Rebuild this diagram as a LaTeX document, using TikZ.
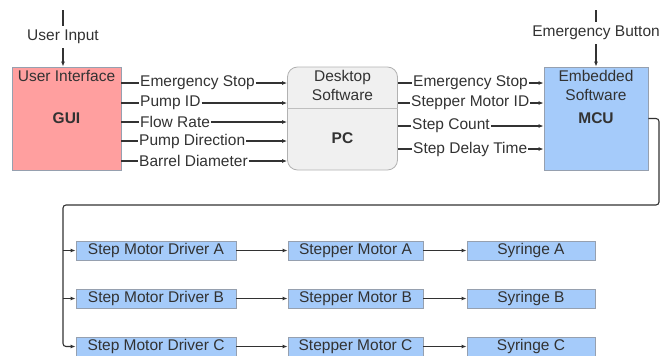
\documentclass[tikz,border=0pt]{standalone}
\usepackage{fontspec}
\setmainfont{Liberation Sans}
\usepackage{tikz}
\usetikzlibrary{arrows.meta}

\definecolor{guipink}{RGB}{255,159,159}
\definecolor{swblue}{RGB}{165,203,250}
\definecolor{pcgray}{RGB}{240,240,240}
\definecolor{edgegray}{RGB}{150,160,175}
\definecolor{inkgray}{RGB}{50,50,50}

\begin{document}
\begin{tikzpicture}
[x=1pt,y=-1pt,
txt/.style={font=\fontsize{15.5}{19}\selectfont,text=inkgray,inner sep=1pt},
block/.style={draw=edgegray,line width=0.8pt,txt,align=center},
bigbox/.style={block,minimum width=109pt,minimum height=103pt},
rowbox/.style={block,fill=swblue,minimum height=19pt},
wire/.style={draw=inkgray,line width=1.1pt},
arr/.style={wire,-{Latex[length=5pt,width=4pt]}}]
\useasboundingbox (0,0) rectangle (672,356);
% top row
\node[bigbox,fill=guipink,label={[txt,anchor=north,inner sep=3.5pt]north:User Interface}] (gui) at (66.5,118.5) {\textbf{GUI}};
\node[bigbox,fill=pcgray,draw=gray!60,rounded corners=10pt,minimum width=110pt,
  label={[txt,anchor=north,align=center,inner sep=3pt]north:Desktop\\Software},
  label={[txt,yshift=-19.5pt]center:\textbf{PC}}] (pc) at (342.5,118.5) {};
\node[bigbox,fill=swblue,minimum width=104pt,
  label={[txt,anchor=north,align=center,inner sep=3.5pt]north:Embedded\\Software}] (mcu) at (596,118.5) {\textbf{MCU}};
\draw[draw=gray!50,line width=0.8pt] (pc.west |- 0,108) -- (pc.east |- 0,108);
% outside inputs
\node[txt,inner sep=4pt] (uin) at (63,37) {User Input};
\node[txt,inner sep=4pt] (ebtn) at (596,33) {Emergency Button};
\coordinate (uintop) at (63,10);
\coordinate (ebtntop) at (596,10);
\draw[wire] (uintop) -- (uin);
\draw[arr] (uin) -- (gui.north -| uin);
\draw[wire] (ebtntop) -- (ebtn);
\draw[arr] (ebtn) -- (mcu.north);
% GUI -> PC
\node[txt,anchor=west] (es1) at (139,83) {Emergency Stop};
\node[txt,anchor=west] (pid) at (139,103) {Pump ID};
\node[txt,anchor=west] (fr) at (139,122) {Flow Rate};
\node[txt,anchor=west] (pdir) at (138,141) {Pump Direction};
\node[txt,anchor=west] (bd) at (138,161) {Barrel Diameter};
\foreach \s in {es1,pid,fr,pdir,bd}{
  \draw[wire] (gui.east |- \s) -- (\s.west);
  \draw[arr] (\s.east) -- (pc.west |- \s);
}
% PC -> MCU
\node[txt,anchor=west] (es2) at (412,83) {Emergency Stop};
\node[txt,anchor=west] (smid) at (410,103) {Stepper Motor ID};
\node[txt,anchor=west] (sc) at (411,126) {Step Count};
\node[txt,anchor=west] (sdt) at (412,149) {Step Delay Time};
\foreach \s in {es2,smid,sc,sdt}{
  \draw[wire] (pc.east |- \s) -- (\s.west);
  \draw[arr] (\s.east) -- (mcu.west |- \s);
}
% motor rows
\foreach \r/\y in {A/250.5,B/298.5,C/346.5}{
  \node[rowbox,minimum width=160pt] (drv\r) at (156,\y) {Step Motor Driver \r};
  \node[rowbox,minimum width=135pt] (mot\r) at (355.5,\y) {Stepper Motor \r};
  \node[rowbox,minimum width=128pt] (syr\r) at (531,\y) {Syringe \r};
  \draw[arr] (drv\r) -- (mot\r);
  \draw[arr] (mot\r) -- (syr\r);
}
% MCU bus
\coordinate (turn) at (659,205);
\coordinate (bus) at (63,205);
\draw[arr,rounded corners=3pt] (mcu.east) -| (turn) -- (bus) |- (drvC.west);
\draw[arr] (bus |- drvA) -- (drvA.west);
\draw[arr] (bus |- drvB) -- (drvB.west);
\end{tikzpicture}
\end{document}
